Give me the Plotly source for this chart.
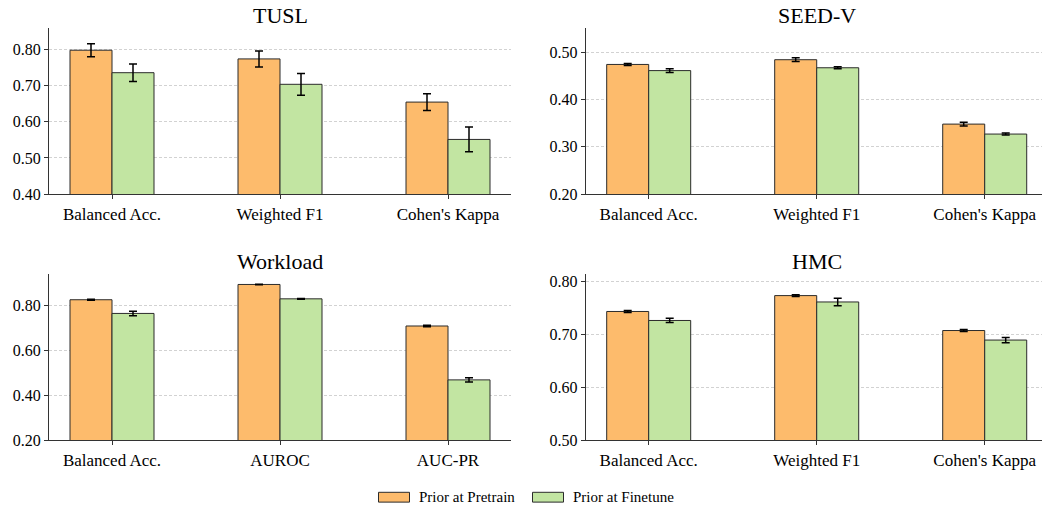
import plotly.graph_objects as go

# ---- data -------------------------------------------------------------
series_names = ["Prior at Pretrain", "Prior at Finetune"]

tusl_metrics = ["Balanced Acc.", "Weighted F1", "Cohen's Kappa"]
tusl_pretrain = [0.797, 0.773, 0.654]
tusl_pretrain_err = [0.018, 0.022, 0.023]
tusl_finetune = [0.735, 0.703, 0.551]
tusl_finetune_err = [0.024, 0.030, 0.034]

seed_metrics = ["Balanced Acc.", "Weighted F1", "Cohen's Kappa"]
seed_pretrain = [0.474, 0.484, 0.348]
seed_pretrain_err = [0.002, 0.004, 0.004]
seed_finetune = [0.461, 0.467, 0.327]
seed_finetune_err = [0.004, 0.002, 0.002]

workload_metrics = ["Balanced Acc.", "AUROC", "AUC-PR"]
workload_pretrain = [0.825, 0.893, 0.708]
workload_pretrain_err = [0.002, 0.001, 0.003]
workload_finetune = [0.764, 0.829, 0.468]
workload_finetune_err = [0.010, 0.002, 0.010]

hmc_metrics = ["Balanced Acc.", "Weighted F1", "Cohen's Kappa"]
hmc_pretrain = [0.743, 0.773, 0.707]
hmc_pretrain_err = [0.002, 0.0015, 0.002]
hmc_finetune = [0.726, 0.761, 0.689]
hmc_finetune_err = [0.004, 0.007, 0.005]

# ---- styling ----------------------------------------------------------
W, H = 1042, 517
FONT = "Liberation Serif, Times New Roman, serif"
ORANGE = "#FDBB6C"
GREEN = "#C2E5A2"
EDGE = "#2b2b2b"
AXIS = "#333333"

LEFT_X = [49 / W, 511 / W]
RIGHT_X = [585.7 / W, 1.0]
TOP_Y = [1 - 197 / H, 1 - 28 / H]
BOT_Y = [1 - 447.7 / H, 1 - 278.3 / H]

panels = [
    # title, metrics, pre, pre_err, fine, fine_err, x-domain, y-domain, y-range, dtick,
    # x-range, title centre (px), title middle (px from top)
    ("TUSL", tusl_metrics, tusl_pretrain, tusl_pretrain_err, tusl_finetune, tusl_finetune_err,
     LEFT_X, TOP_Y, [0.40, 0.857], 0.1, [-0.375, 2.375], 280, 15),
    ("SEED-V", seed_metrics, seed_pretrain, seed_pretrain_err, seed_finetune, seed_finetune_err,
     RIGHT_X, TOP_Y, [0.20, 0.550], 0.1, [-0.375, 2.341], 816.7, 15),
    ("Workload", workload_metrics, workload_pretrain, workload_pretrain_err,
     workload_finetune, workload_finetune_err,
     LEFT_X, BOT_Y, [0.20, 0.94], 0.2, [-0.375, 2.375], 280, 266),
    ("HMC", hmc_metrics, hmc_pretrain, hmc_pretrain_err, hmc_finetune, hmc_finetune_err,
     RIGHT_X, BOT_Y, [0.50, 0.814], 0.1, [-0.375, 2.341], 816.7, 266),
]

fig = go.Figure()
annotations = []
layout_axes = {}

for i, (title, cats, pre, pre_e, fin, fin_e, xd, yd, yr, dt, xr, tx, ty) in enumerate(panels):
    n = "" if i == 0 else str(i + 1)
    xa, ya = "x" + n, "y" + n
    for name, vals, errs, color, grp in [
        (series_names[0], pre, pre_e, ORANGE, "a"),
        (series_names[1], fin, fin_e, GREEN, "b"),
    ]:
        fig.add_trace(go.Bar(
            x=cats, y=vals, name=name, offsetgroup=grp,
            marker=dict(color=color, line=dict(color=EDGE, width=1)),
            error_y=dict(type="data", array=errs, visible=True,
                         color="black", thickness=1.5, width=4),
            xaxis=xa, yaxis=ya, showlegend=False,
        ))
    layout_axes["xaxis" + n] = dict(
        domain=xd, anchor=ya, type="category", range=xr,
        showline=True, linecolor=AXIS, linewidth=1.2,
        ticks="outside", ticklen=4, tickcolor=AXIS, tickwidth=1.2,
        showgrid=False, zeroline=False,
        tickfont=dict(family=FONT, size=17, color="black"),
    )
    layout_axes["yaxis" + n] = dict(
        domain=yd, anchor=xa, range=yr, dtick=dt, tick0=0, tickformat=".2f",
        showline=True, linecolor=AXIS, linewidth=1.2,
        ticks="outside", ticklen=4, tickcolor=AXIS, tickwidth=1.2,
        showgrid=True, gridcolor="#d2d2d2", griddash="3px,2px", gridwidth=1,
        zeroline=False,
        tickfont=dict(family=FONT, size=16, color="black"),
    )
    annotations.append(dict(
        text=title, xref="paper", yref="paper",
        x=tx / W, y=1 - ty / H, xanchor="center", yanchor="middle",
        showarrow=False, font=dict(family=FONT, size=22, color="black"),
    ))

# legend drawn as patches plus labels along the bottom
legend_items = [(series_names[0], ORANGE, 378.5), (series_names[1], GREEN, 532.5)]
shapes = []
for label, color, x0 in legend_items:
    shapes.append(dict(
        type="rect", xref="paper", yref="paper",
        x0=x0 / W, x1=(x0 + 31) / W, y0=1 - 511 / H, y1=1 - 501 / H,
        fillcolor=color, line=dict(color=EDGE, width=1),
    ))
    annotations.append(dict(
        text=label, xref="paper", yref="paper", x=(x0 + 38) / W, y=1 - 506 / H,
        xanchor="left", yanchor="middle", showarrow=False,
        font=dict(family=FONT, size=15, color="black"),
    ))

fig.update_layout(
    width=W, height=H, margin=dict(l=0, r=0, t=0, b=0),
    paper_bgcolor="white", plot_bgcolor="white",
    barmode="group", bargap=0.5, bargroupgap=0,
    annotations=annotations, shapes=shapes,
    showlegend=False,
    **layout_axes,
)

fig.write_html("out.html")
